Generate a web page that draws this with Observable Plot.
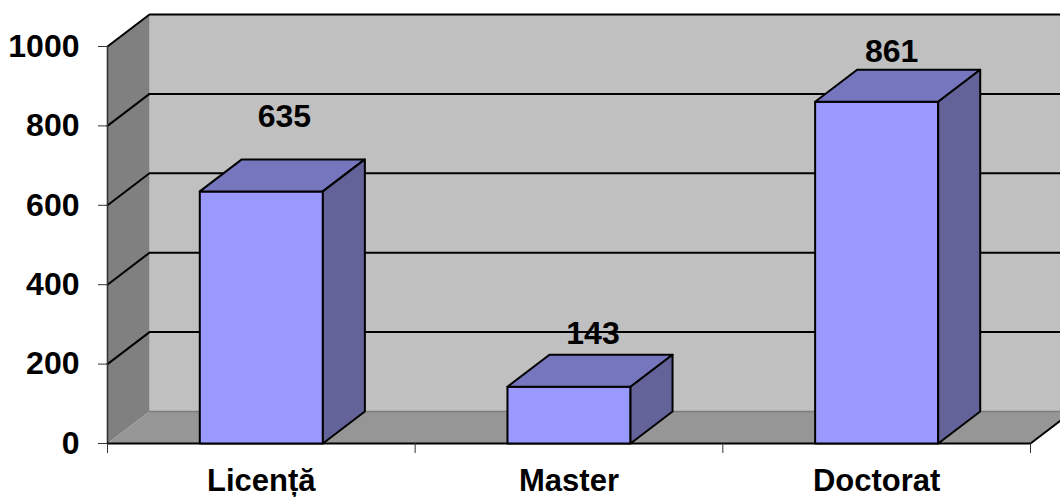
<!DOCTYPE html>
<html><head><meta charset="utf-8">
<script src="https://cdn.jsdelivr.net/npm/d3@7"></script>
<script src="https://cdn.jsdelivr.net/npm/@observablehq/plot@0.6"></script>
<style>html,body{margin:0;padding:0;background:#fff;overflow:hidden}svg{display:block}</style>
</head><body><div id="chart"></div>
<script>
const categories = ["Licență", "Master", "Doctorat"];
const values = [635, 143, 861];
const yTicks = [0, 200, 400, 600, 800, 1000];

// chart frame
const W = 1060, H = 497, mL = 107, mR = 30, mT = 46, mB = 54;
const x = {domain: [0, 3], range: [mL, W - mR]};
const y = {domain: [0, 1000], range: [H - mB, mT]};
// oblique depth of the 3D box, in data units
const dx = 42 / ((W - mR - mL) / 3), dy = 32 / ((H - mB - mT) / 1000);
const barGap = 0.3;
const labelShiftX = [23, 24, 15], labelRise = [75, 53, 50]; // label offset from the bar top, px

const poly = (id, fill, pts) => pts.map(([a, b]) => ({id, fill, a, b}));
const xMax = 3;

const wallRows = [
  ...poly("back", "#c0c0c0", [[dx,dy],[xMax+dx,dy],[xMax+dx,1000+dy],[dx,1000+dy],[dx,dy]]),
  ...poly("left", "#808080", [[0,0],[dx,dy],[dx,1000+dy],[0,1000],[0,0]]),
  ...poly("floor", "#969696", [[0,0],[xMax,0],[xMax+dx,dy],[dx,dy],[0,0]])
];
const gridRows = yTicks.slice(1).flatMap(t => [
  {id: t, a: 0, b: t}, {id: t, a: dx, b: t + dy}, {id: t, a: xMax + dx, b: t + dy}
]);
const barRows = values.flatMap((v, i) => {
  const l = i + barGap, r = i + 1 - barGap;
  return [
    ...poly(`f${i}`, "#9999ff", [[l,0],[r,0],[r,v],[l,v],[l,0]]),
    ...poly(`t${i}`, "#7676bf", [[l,v],[r,v],[r+dx,v+dy],[l+dx,v+dy],[l,v]]),
    ...poly(`s${i}`, "#636399", [[r,0],[r+dx,dy],[r+dx,v+dy],[r,v],[r,0]])
  ];
});
const pxX = (W - mR - mL) / 3, pxY = (H - mB - mT) / 1000;
const labelRows = values.map((v, i) => ({a: i + 0.5 + labelShiftX[i] / pxX, b: v + labelRise[i] / pxY, v}));

const font = "'Liberation Sans', Arial, sans-serif";
const plot = Plot.plot({
  width: W, height: H,
  marginLeft: mL, marginRight: mR, marginTop: mT, marginBottom: mB,
  style: {fontFamily: font, background: "#fff", overflow: "hidden"},
  x: {...x, axis: null},
  y: {...y, axis: null},
  marks: [
    Plot.line(wallRows, {x: "a", y: "b", z: "id", fill: "fill", stroke: null, curve: "linear"}),
    Plot.ruleY([dy], {x1: dx, x2: xMax + dx, stroke: "#7d7d7d", strokeWidth: 1.5}),
    Plot.line(gridRows, {x: "a", y: "b", z: "id", stroke: "#000", strokeWidth: 2, fill: "none"}),
    Plot.ruleX([0], {y1: 0, y2: 1000, stroke: "#333", strokeWidth: 1.6}),
    Plot.line(poly("fx", "none", [[xMax,0],[xMax+dx,dy]]), {x: "a", y: "b", z: "id", stroke: "#000", strokeWidth: 2}),
    Plot.ruleY([0], {x1: 0, x2: xMax, stroke: "#000", strokeWidth: 2}),
    Plot.line(barRows, {x: "a", y: "b", z: "id", fill: "fill", stroke: "#000", strokeWidth: 2, strokeLinejoin: "round"}),
    Plot.text(labelRows, {x: "a", y: "b", text: "v", fontSize: 32, fontWeight: "bold", fill: "#000"}),
    Plot.axisY(yTicks, {anchor: "left", tickSize: 9, tickPadding: 19, stroke: "#333", fontSize: 32, fontWeight: "bold", fill: "#000", label: null, tickFormat: d => String(d)}),
    Plot.axisX([0, 1, 2, 3], {anchor: "bottom", tickSize: 10, stroke: "#333", tickFormat: () => "", label: null}),
    Plot.axisX(categories.map((c, i) => i + 0.5), {anchor: "bottom", tickSize: 0, tickPadding: 25, fontSize: 31, fontWeight: "bold", fill: "#000", tickFormat: d => categories[Math.floor(d)], label: null})
  ]
});
document.getElementById("chart").append(plot);
</script></body></html>
